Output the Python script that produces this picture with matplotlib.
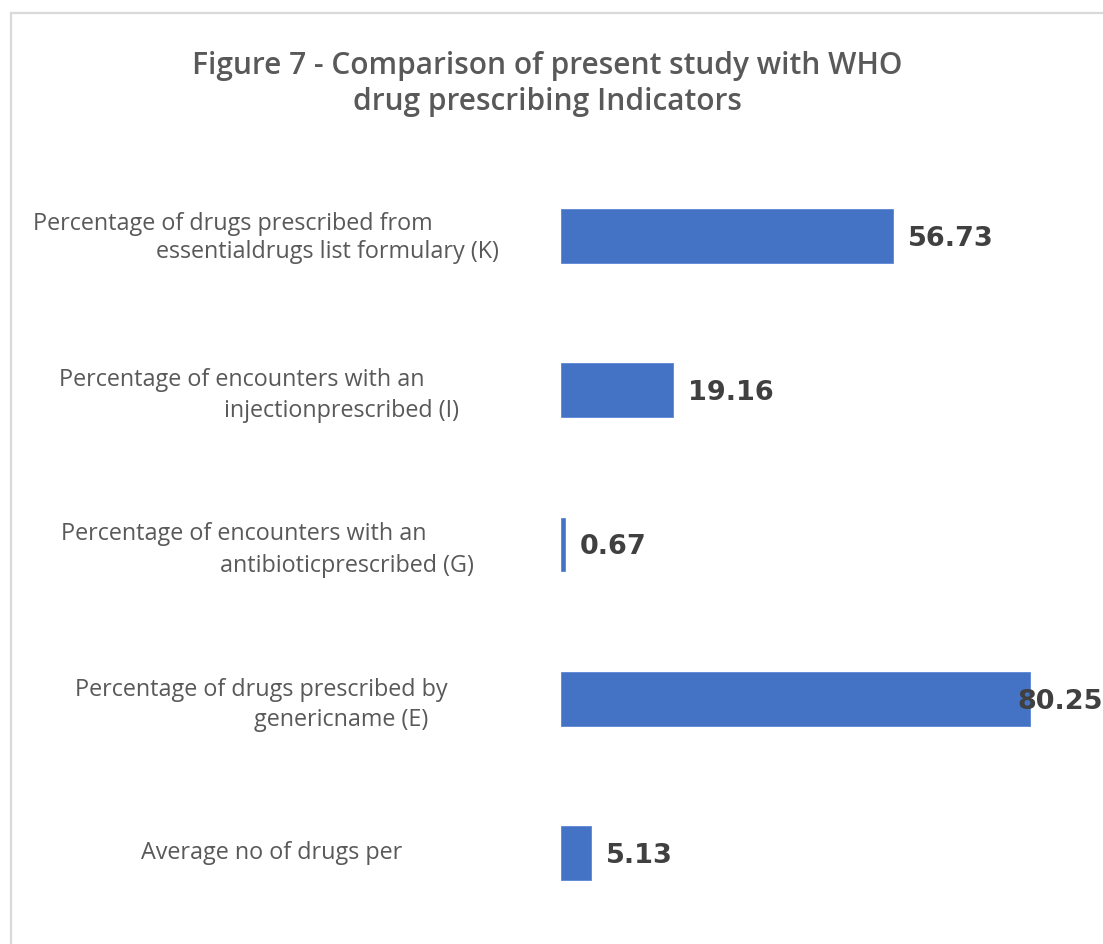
import matplotlib
matplotlib.use('Agg')
import matplotlib.pyplot as plt
from matplotlib.lines import Line2D

# indicator labels (two lines each, as wrapped in the chart) and values
labels = [
    ["Percentage of drugs prescribed from", "essentialdrugs list formulary (K)"],
    ["Percentage of encounters with an", "injectionprescribed (I)"],
    ["Percentage of encounters with an", "antibioticprescribed (G)"],
    ["Percentage of drugs prescribed by", "genericname (E)"],
    ["Average no of drugs per"],
]
values = [56.73, 19.16, 0.67, 80.25, 5.13]

title = "Figure 7 - Comparison of present study with WHO\ndrug prescribing Indicators"

# where each label line sits (centre x in pixels, y shift in pixels)
label_cx = [[233, 327], [242, 341], [244, 347], [261, 341], [272]]
label_dy = [[-12, 16], [-10, 21], [-10, 22], [-9, 21], [0]]

W, H = 1103, 944
bar_col = '#4472C4'
txt_col = '#595959'
val_col = '#404040'

fig = plt.figure(figsize=(W / 100, H / 100), dpi=100)
fig.patch.set_facecolor('white')

# chart area border (only top and left edges are visible)
fig.add_artist(Line2D([11 / W, 11 / W], [0, 1 - 13 / H], transform=fig.transFigure,
                      color='#d9d9d9', lw=1.6))
fig.add_artist(Line2D([11 / W, 1], [1 - 13 / H, 1 - 13 / H], transform=fig.transFigure,
                      color='#d9d9d9', lw=1.6))

fig.text(547 / W, 1 - 84 / H, title, ha='center', va='center', fontsize=21.5,
         fontweight='semibold', color=txt_col, family=['Open Sans', 'DejaVu Sans'],
         linespacing=1.22)

ax_left = 561 / W
ax = fig.add_axes([ax_left, 1 - 930 / H, 1 - ax_left, (930 - 159) / H])
ax.set_xlim(0, (W - 561) / 5.844)
ypos = list(range(len(values)))
ax.set_ylim(len(values) - 0.5, -0.5)
ax.barh(ypos, values, height=0.35, color=bar_col, edgecolor='#5b86d6', linewidth=0.6)
ax.axis('off')

# value labels, pushed back inside the figure when they would run off the edge
fig.canvas.draw()
renderer = fig.canvas.get_renderer()
for y, v in zip(ypos, values):
    t = ax.annotate(f"{v:.2f}", xy=(v, y), xytext=(15, -3), textcoords='offset pixels',
                    ha='left', va='center', fontsize=19.5, fontweight='bold',
                    color=val_col, family='DejaVu Sans')
    bb = t.get_window_extent(renderer)
    if bb.x1 > W:
        t.xy = (0, y)
        t.xycoords = ('figure pixels', 'data')
        t.set_position((W - bb.width, -3))

# category labels on the left
for y, lines, cxs, dys in zip(ypos, labels, label_cx, label_dy):
    for line, cx, dy in zip(lines, cxs, dys):
        ax.annotate(line, xy=(0, y), xycoords=('figure pixels', 'data'),
                    xytext=(cx, -dy), textcoords='offset pixels',
                    ha='center', va='center', fontsize=16.8, color=txt_col,
                    family=['Open Sans', 'DejaVu Sans'], annotation_clip=False)

fig.savefig('out.png', dpi=100)
